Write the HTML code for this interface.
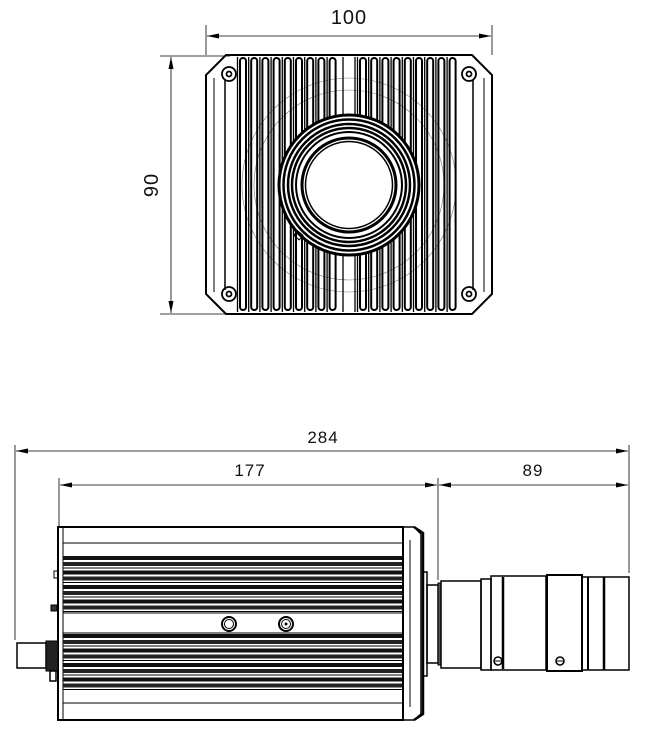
<!DOCTYPE html>
<html><head><meta charset="utf-8"><style>
html,body{margin:0;padding:0;background:#fff;width:650px;height:750px;overflow:hidden}
svg{display:block}
text{font-family:"Liberation Sans",sans-serif;fill:#111;font-weight:300;letter-spacing:1px}
</style></head><body>
<svg id="s" width="650" height="750" viewBox="0 0 650 750" xmlns="http://www.w3.org/2000/svg" fill="none" stroke="#000" stroke-width="1">
<defs>
<marker id="a" viewBox="0 0 12 5" refX="12" refY="2.5" markerWidth="13" markerHeight="5" orient="auto-start-reverse" markerUnits="userSpaceOnUse"><path d="M0,0 L12,2.5 L0,5z" fill="#000" stroke="none"/></marker>
</defs>
<g stroke-width="0.8">
<line x1="206" y1="25" x2="206" y2="55"/><line x1="492" y1="25" x2="492" y2="55"/>
<line x1="207" y1="36" x2="491" y2="36" marker-start="url(#a)" marker-end="url(#a)"/>
<line x1="160" y1="56" x2="230" y2="56"/><line x1="160" y1="314" x2="230" y2="314"/>
<line x1="171" y1="57" x2="171" y2="313" marker-start="url(#a)" marker-end="url(#a)"/>
</g>
<text x="349" y="24" font-size="20" text-anchor="middle" stroke="none">100</text>
<text x="0" y="0" font-size="20" text-anchor="middle" stroke="none" transform="translate(158,185) rotate(-90)">90</text>
<path d="M226,55 L472,55 L492,75 L492,294 L472,314 L226,314 L206,294 L206,75 Z" stroke-width="2"/>
<line x1="214" y1="78" x2="214" y2="292"/><line x1="484" y1="78" x2="484" y2="292"/>
<line x1="225" y1="80" x2="225" y2="290" stroke-width="1.5"/><line x1="473" y1="80" x2="473" y2="290" stroke-width="1.5"/>
<circle cx="349" cy="185" r="107" stroke-width="0.6" stroke="#777"/>
<circle cx="349" cy="185" r="95" stroke-width="0.6" stroke="#777"/>
<g id="fins" stroke-width="2"></g>
<circle cx="349" cy="185" r="70" fill="#fff" stroke-width="3"/>
<circle cx="349" cy="185" r="65.5" stroke-width="2.5"/>
<circle cx="349" cy="185" r="61" stroke-width="2.5"/>
<circle cx="349" cy="185" r="57" stroke-width="2.5"/>
<circle cx="349" cy="185" r="53" stroke-width="2"/>
<circle cx="349" cy="185" r="47" stroke-width="3"/>
<circle cx="349" cy="185" r="43.5" stroke-width="1.5"/>
<rect x="295" y="232" width="7" height="6" transform="rotate(40 298 235)"/>
<g stroke-width="1.8">
<circle cx="229" cy="74" r="7"/><circle cx="469" cy="74" r="7"/><circle cx="229" cy="294" r="7"/><circle cx="469" cy="294" r="7"/>
<circle cx="229" cy="74" r="2.5"/><circle cx="469" cy="74" r="2.5"/><circle cx="229" cy="294" r="2.5"/><circle cx="469" cy="294" r="2.5"/>
</g>
<g stroke-width="0.8">
<line x1="15" y1="445" x2="15" y2="640"/><line x1="629" y1="445" x2="629" y2="573"/>
<line x1="59" y1="478" x2="59" y2="526"/><line x1="438" y1="478" x2="438" y2="580"/>
<line x1="16" y1="451" x2="628" y2="451" marker-start="url(#a)" marker-end="url(#a)"/>
<line x1="60" y1="485" x2="437" y2="485" marker-start="url(#a)" marker-end="url(#a)"/>
<line x1="439" y1="485" x2="628" y2="485" marker-start="url(#a)" marker-end="url(#a)"/>
</g>
<text x="323" y="443" font-size="17" text-anchor="middle" stroke="none">284</text>
<text x="250" y="476" font-size="17" text-anchor="middle" stroke="none">177</text>
<text x="533" y="476" font-size="17" text-anchor="middle" stroke="none">89</text>
<rect x="58" y="527" width="345" height="193" stroke-width="2"/>
<line x1="63" y1="527" x2="63" y2="720"/>
<line x1="63" y1="543" x2="402" y2="543"/><line x1="63" y1="703" x2="402" y2="703"/>
<g id="bands"></g>
<line x1="63" y1="613" x2="402" y2="613"/><line x1="63" y1="633" x2="402" y2="633"/>
<circle cx="229" cy="624" r="7" stroke-width="2"/><circle cx="229" cy="624" r="4.5"/>
<circle cx="286" cy="624" r="7" stroke-width="2"/><circle cx="286" cy="624" r="4.5"/><circle cx="286" cy="624" r="1" fill="#000"/>
<path d="M403,527 L414,527 L421,534 L421,714 L414,720 L403,720" stroke-width="1.5"/>
<path d="M414,527 L423,533 L423,714 L414,720" stroke-width="2.5"/>
<line x1="410" y1="540" x2="410" y2="707"/>
<rect x="423" y="572" width="4" height="104" stroke-width="1.5"/>
<rect x="427" y="585" width="11" height="78" stroke-width="1.5"/>
<rect x="438" y="583" width="3" height="82" fill="#555" stroke-width="1"/>
<rect x="441" y="581" width="40" height="87" stroke-width="1.5"/>
<rect x="481" y="579" width="10" height="91" stroke-width="1.5"/>
<rect x="491" y="576" width="55" height="94" stroke-width="1.5"/>
<line x1="503" y1="577" x2="503" y2="669" stroke-width="2.5"/>
<rect x="547" y="575" width="35" height="96" stroke-width="2"/>
<rect x="582" y="577" width="47" height="93" stroke-width="1.5"/>
<line x1="588" y1="577" x2="588" y2="670" stroke-width="2"/>
<line x1="604" y1="577" x2="604" y2="670" stroke-width="2.5"/>
<circle cx="498" cy="661" r="4" stroke-width="1.5"/><line x1="494" y1="661" x2="502" y2="661"/>
<circle cx="560" cy="661" r="4" stroke-width="1.5"/><line x1="556" y1="661" x2="564" y2="661"/>
<rect x="17" y="643" width="29" height="25" stroke-width="1.5"/>
<rect x="46" y="641" width="12" height="30" fill="#222"/>
<rect x="50" y="671" width="6" height="10" stroke-width="1.5"/>
<rect x="54" y="571" width="4" height="7"/>
<rect x="51" y="605" width="6" height="6" fill="#333"/>
</svg>
<script>
var ns="http://www.w3.org/2000/svg";
function el(p,t,a){var e=document.createElementNS(ns,t);for(var k in a)e.setAttribute(k,a[k]);p.appendChild(e);return e;}
var f=document.getElementById('fins');
var xs=[];for(var i=0;i<9;i++)xs.push(240+i*11.2);for(var i=0;i<9;i++)xs.push(360+i*11.2);
xs.forEach(function(x){el(f,'rect',{x:x,y:58,width:6,height:252,rx:3});el(f,'line',{x1:x-2.5,y1:57,x2:x-2.5,y2:312,'stroke-width':1.3});});
el(f,'line',{x1:343,y1:57,x2:343,y2:312,'stroke-width':1.3});el(f,'line',{x1:355,y1:57,x2:355,y2:312,'stroke-width':1.3});
var b=document.getElementById('bands');
[[555,613],[633,691]].forEach(function(r){for(var y=r[0];y<r[1]-2;y+=14.5){
el(b,'rect',{x:63,y:y+1,width:339,height:4,fill:'#111',stroke:'none'});
el(b,'rect',{x:63,y:y+7,width:339,height:4,fill:'#222',stroke:'none'});
el(b,'line',{x1:63,y1:y+13,x2:402,y2:y+13,'stroke-width':1});}});
</script>
</body></html>
